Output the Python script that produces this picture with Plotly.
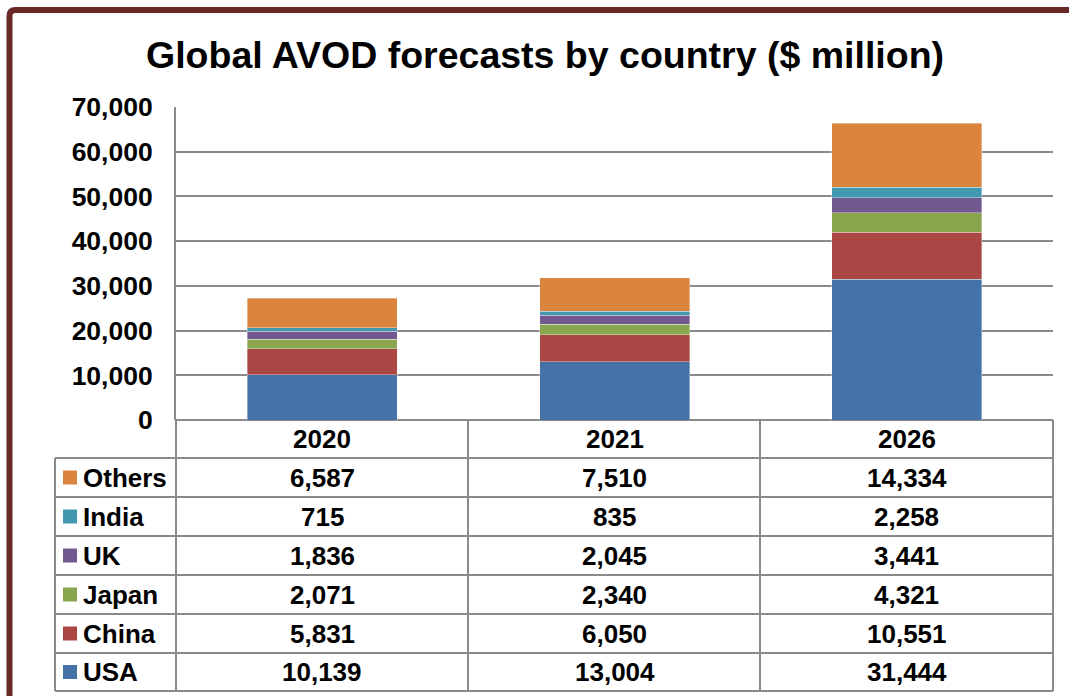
import plotly.graph_objects as go

years = ["2020", "2021", "2026"]
series = ["USA", "China", "Japan", "UK", "India", "Others"]
usa = [10139, 13004, 31444]
china = [5831, 6050, 10551]
japan = [2071, 2340, 4321]
uk = [1836, 2045, 3441]
india = [715, 835, 2258]
others = [6587, 7510, 14334]
values = {"USA": usa, "China": china, "Japan": japan, "UK": uk, "India": india, "Others": others}
colors = {"USA": "#4572A7", "China": "#AA4643", "Japan": "#89A54E",
          "UK": "#71588F", "India": "#4198AF", "Others": "#DB843D"}
table_order = ["Others", "India", "UK", "Japan", "China", "USA"]
y_ticks = [0, 10000, 20000, 30000, 40000, 50000, 60000, 70000]
title = "Global AVOD forecasts by country ($ million)"

W, H = 1069, 696
def px(x):
    return x / W
def py(y):
    return 1 - y / H

FONT = "Arial, Liberation Sans, sans-serif"
GRID = "#8a8a8a"

fig = go.Figure()
for s in series:
    fig.add_trace(go.Bar(x=years, y=values[s], name=s, marker_color=colors[s],
                         marker_line=dict(width=0.6, color="rgba(255,255,255,0.6)"),
                         showlegend=False))

# plot area pixels
PL, PR, PT, PB = 176, 1053, 107, 420
# table rows
row_edges = [458, 497, 536, 575, 614, 653, 691]
TL = 55
col_edges_px = [176, 468, 760, 1053]

shapes = []
for y in row_edges:
    shapes.append(dict(type="line", xref="paper", yref="paper", x0=px(TL), x1=px(PR),
                       y0=py(y), y1=py(y), line=dict(color=GRID, width=2)))
shapes.append(dict(type="line", xref="paper", yref="paper", x0=px(TL), x1=px(TL),
                   y0=py(row_edges[0]), y1=py(row_edges[-1]), line=dict(color=GRID, width=2)))
for x in col_edges_px:
    shapes.append(dict(type="line", xref="paper", yref="paper", x0=px(x), x1=px(x),
                       y0=py(PB), y1=py(row_edges[-1]), line=dict(color=GRID, width=2)))

TF = dict(family=FONT, size=26, color="black", weight="bold")
annotations = []
# header (x given as category index on the category axis)
for j, yr in enumerate(years):
    annotations.append(dict(x=j, xref="x", y=py((PB + row_edges[0]) / 2), yref="paper",
                            text=yr, showarrow=False, xanchor="center", yanchor="middle",
                            font=TF))
for i, s in enumerate(table_order):
    yc = py((row_edges[i] + row_edges[i + 1]) / 2)
    shapes.append(dict(type="rect", xref="paper", yref="paper", x0=px(63), x1=px(77),
                       y0=yc - 7 / H, y1=yc + 7 / H, fillcolor=colors[s], line=dict(width=0)))
    annotations.append(dict(x=px(81), xref="paper", y=yc, yref="paper", text=s,
                            showarrow=False, xanchor="left", yanchor="middle", font=TF))
    for j, yr in enumerate(years):
        annotations.append(dict(x=j, xref="x", y=yc, yref="paper", text=f"{values[s][j]:,}",
                                showarrow=False, xanchor="center", yanchor="middle", font=TF))

annotations.append(dict(x=px(545), xref="paper", y=py(55), yref="paper", text=title,
                        showarrow=False, xanchor="center", yanchor="middle",
                        font=dict(family=FONT, size=37.5, color="black", weight="bold")))

bx, by = 9.5, 10
r = 6
path = (f"M {px(bx)},{py(H + 10)} L {px(bx)},{py(by + r)} "
        f"Q {px(bx)},{py(by)} {px(bx + r)},{py(by)} L {px(W + 10)},{py(by)}")
shapes.append(dict(type="path", xref="paper", yref="paper", path=path,
                   line=dict(color="#6B2828", width=6)))

fig.update_layout(
    width=W, height=H, autosize=False,
    margin=dict(l=0, r=0, t=0, b=0, pad=0, autoexpand=False),
    paper_bgcolor="white", plot_bgcolor="white",
    barmode="stack", bargap=1 - 150 / 292.33,
    shapes=shapes, annotations=annotations,
    xaxis=dict(domain=[px(PL), px(PR)], range=[-0.5, 2.5], showticklabels=False,
               showgrid=False, zeroline=False, showline=False, type="category",
               automargin=False),
    yaxis=dict(domain=[py(PB), py(PT)], range=[0, 70000], tickvals=y_ticks,
               tickformat=",d", showgrid=True, gridcolor=GRID, gridwidth=2,
               zeroline=True, zerolinecolor=GRID, zerolinewidth=2,
               showline=True, linecolor=GRID, linewidth=2,
               ticks="outside", ticklen=16, tickcolor="rgba(0,0,0,0)",
               automargin=False,
               tickfont=dict(family=FONT, size=26.5, color="black", weight="bold")),
)

fig.write_html("out.html")
